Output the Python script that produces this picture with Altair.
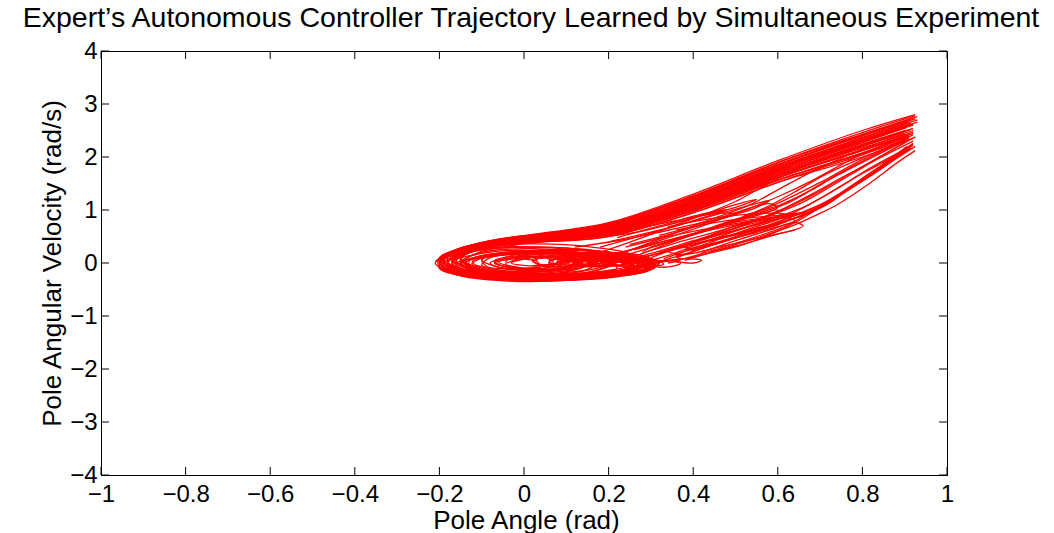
import altair as alt
import pandas as pd

TITLE = "Expert\u2019s Autonomous Controller Trajectory Learned by Simultaneous Experiment"
X_TITLE = "Pole Angle (rad)"
Y_TITLE = "Pole Angular Velocity (rad/s)"
TICKS_X = [-1, -0.8, -0.6, -0.4, -0.2, 0, 0.2, 0.4, 0.6, 0.8, 1]
TICKS_Y = [-4, -3, -2, -1, 0, 1, 2, 3, 4]

# upper band: from top-right down to the spiral on the left
UPPER = [
    [(0.925,2.78),(0.8,2.46),(0.6,1.9),(0.4,1.27),(0.2,0.74),(0.05,0.56),(-0.08,0.42),(-0.17,0.22),(-0.21,0.0),(-0.15,-0.22),(0.0,-0.33),(0.15,-0.3),(0.27,-0.17),(0.3,0.0),(0.22,0.18),(0.08,0.25),(-0.07,0.16),(-0.12,0.0),(-0.05,-0.14),(0.08,-0.14),(0.13,0.0),(0.06,0.08)],
    [(0.92,2.74),(0.8,2.42),(0.6,1.86),(0.4,1.24),(0.2,0.72),(0.05,0.53),(-0.08,0.4),(-0.16,0.2),(-0.2,0.0),(-0.14,-0.2),(0.0,-0.31),(0.16,-0.28),(0.28,-0.14),(0.29,0.02),(0.2,0.16),(0.05,0.2),(-0.08,0.1),(-0.1,-0.04),(-0.02,-0.12),(0.08,-0.09),(0.09,0.02)],
    [(0.93,2.7),(0.8,2.36),(0.6,1.82),(0.4,1.2),(0.2,0.7),(0.04,0.5),(-0.08,0.37),(-0.15,0.18),(-0.19,0.0),(-0.13,-0.19),(0.02,-0.29),(0.18,-0.26),(0.3,-0.1),(0.27,0.06),(0.15,0.15),(0.0,0.15),(-0.07,0.04),(-0.04,-0.08),(0.06,-0.08),(0.08,0.01)],
    [(0.91,2.66),(0.8,2.37),(0.6,1.8),(0.4,1.18),(0.2,0.68),(0.03,0.49),(-0.09,0.34),(-0.16,0.15),(-0.18,-0.02),(-0.12,-0.2),(0.03,-0.28),(0.2,-0.23),(0.31,-0.08),(0.28,0.08),(0.14,0.13),(0.02,0.1),(-0.03,0.0),(0.03,-0.06),(0.08,0.0)],
    [(0.92,2.62),(0.8,2.3),(0.6,1.76),(0.4,1.15),(0.2,0.66),(0.03,0.47),(-0.09,0.32),(-0.15,0.14),(-0.17,-0.03),(-0.1,-0.2),(0.05,-0.27),(0.2,-0.21),(0.28,-0.06),(0.22,0.1),(0.1,0.12),(0.02,0.04),(0.05,-0.04),(0.1,0.0)],
    [(0.9,2.58),(0.8,2.3),(0.6,1.72),(0.4,1.12),(0.2,0.63),(0.02,0.45),(-0.1,0.3),(-0.16,0.12),(-0.16,-0.05),(-0.08,-0.2),(0.08,-0.25),(0.22,-0.18),(0.27,-0.04),(0.2,0.08),(0.1,0.1),(0.06,0.02),(0.1,-0.04),(0.14,0.01)],
    [(0.915,2.52),(0.8,2.22),(0.6,1.68),(0.4,1.08),(0.2,0.6),(0.02,0.42),(-0.1,0.28),(-0.15,0.1),(-0.14,-0.07),(-0.05,-0.2),(0.1,-0.24),(0.24,-0.16),(0.3,0.0),(0.24,0.1),(0.16,0.08),(0.16,-0.03),(0.22,-0.02)],
    [(0.9,2.48),(0.8,2.2),(0.6,1.65),(0.4,1.05),(0.2,0.58),(0.0,0.42),(-0.12,0.27),(-0.17,0.08),(-0.13,-0.1),(-0.02,-0.22),(0.12,-0.23),(0.25,-0.12),(0.3,0.02),(0.25,0.09),(0.2,0.05),(0.22,-0.03)],
    [(0.92,2.44),(0.8,2.14),(0.6,1.62),(0.4,1.02),(0.2,0.56),(0.0,0.4),(-0.11,0.25),(-0.15,0.07),(-0.11,-0.12),(0.0,-0.22),(0.14,-0.2),(0.27,-0.1),(0.32,0.03),(0.27,0.1),(0.21,0.04),(0.25,-0.02)],
    [(0.91,2.4),(0.8,2.12),(0.6,1.6),(0.4,1.0),(0.2,0.55),(0.0,0.38),(-0.12,0.22),(-0.16,0.04),(-0.1,-0.14),(0.03,-0.22),(0.17,-0.18),(0.28,-0.06),(0.3,0.06),(0.25,0.08),(0.24,0.0)],
    [(0.92,2.35),(0.8,2.06),(0.6,1.56),(0.4,0.98),(0.2,0.53),(0.0,0.36),(-0.1,0.22),(-0.14,0.04),(-0.08,-0.13),(0.05,-0.2),(0.18,-0.16),(0.25,-0.04),(0.22,0.06),(0.16,0.04),(0.18,-0.02)],
    [(0.9,2.3),(0.8,2.0),(0.6,1.52),(0.4,0.95),(0.2,0.5),(-0.02,0.36),(-0.14,0.2),(-0.18,0.0),(-0.12,-0.18),(0.0,-0.26),(0.14,-0.22),(0.22,-0.1),(0.2,0.02),(0.12,0.04),(0.12,-0.04)],
    [(0.93,2.76),(0.82,2.48),(0.62,1.95),(0.42,1.32),(0.22,0.78),(0.08,0.58),(-0.05,0.46),(-0.15,0.28),(-0.2,0.06),(-0.18,-0.16),(-0.06,-0.3),(0.1,-0.32),(0.24,-0.22),(0.31,-0.05),(0.26,0.14),(0.12,0.24),(-0.02,0.2),(-0.1,0.06),(-0.08,-0.1),(0.04,-0.16),(0.14,-0.06),(0.1,0.06)],
    [(0.91,2.68),(0.8,2.4),(0.62,1.9),(0.42,1.28),(0.22,0.74),(0.06,0.55),(-0.06,0.43),(-0.16,0.25),(-0.2,0.03),(-0.16,-0.18),(-0.03,-0.3),(0.12,-0.3),(0.26,-0.19),(0.31,-0.02),(0.24,0.15),(0.1,0.2),(-0.03,0.14),(-0.07,0.0),(0.0,-0.1),(0.1,-0.08),(0.12,0.02)],
    [(0.92,2.6),(0.8,2.3),(0.62,1.82),(0.42,1.22),(0.22,0.7),(0.05,0.52),(-0.07,0.4),(-0.16,0.22),(-0.19,0.02),(-0.14,-0.18),(-0.01,-0.28),(0.14,-0.27),(0.27,-0.16),(0.3,0.0),(0.24,0.12),(0.12,0.16),(0.03,0.08),(0.04,-0.04),(0.12,-0.04)],
    [(0.9,2.55),(0.8,2.27),(0.62,1.78),(0.42,1.18),(0.22,0.66),(0.04,0.49),(-0.08,0.36),(-0.15,0.18),(-0.17,-0.01),(-0.11,-0.18),(0.03,-0.26),(0.18,-0.23),(0.29,-0.1),(0.29,0.04),(0.2,0.11),(0.12,0.06),(0.14,-0.03),(0.19,0.0)],
    [(0.92,2.5),(0.8,2.2),(0.62,1.72),(0.42,1.12),(0.22,0.63),(0.03,0.46),(-0.08,0.33),(-0.14,0.16),(-0.15,-0.02),(-0.08,-0.18),(0.06,-0.25),(0.2,-0.2),(0.3,-0.06),(0.28,0.06),(0.2,0.08),(0.19,0.0)],
    [(0.89,2.46),(0.8,2.2),(0.62,1.7),(0.42,1.1),(0.22,0.62),(0.02,0.44),(-0.1,0.3),(-0.15,0.12),(-0.13,-0.06),(-0.04,-0.19),(0.1,-0.23),(0.22,-0.15),(0.26,-0.03),(0.2,0.05),(0.15,0.0)],
    [(0.91,2.38),(0.8,2.08),(0.62,1.62),(0.42,1.04),(0.22,0.58),(0.02,0.41),(-0.1,0.27),(-0.15,0.1),(-0.12,-0.08),(-0.02,-0.2),(0.12,-0.21),(0.24,-0.12),(0.28,0.0),(0.24,0.07),(0.2,0.02)],
    [(0.9,2.33),(0.8,2.04),(0.62,1.58),(0.42,1.0),(0.22,0.55),(0.0,0.39),(-0.12,0.24),(-0.17,0.05),(-0.12,-0.14),(0.0,-0.23),(0.15,-0.2),(0.26,-0.08),(0.27,0.04),(0.21,0.06),(0.2,0.0)],
    [(0.925,2.72),(0.78,2.35),(0.58,1.8),(0.38,1.2),(0.18,0.69),(0.02,0.5),(-0.1,0.36),(-0.18,0.16),(-0.2,-0.06),(-0.12,-0.24),(0.04,-0.31),(0.2,-0.26),(0.3,-0.12),(0.31,0.04),(0.24,0.12),(0.14,0.1),(0.12,0.0),(0.18,-0.06),(0.24,-0.02)],
    [(0.915,2.64),(0.78,2.28),(0.58,1.74),(0.38,1.15),(0.18,0.66),(0.0,0.48),(-0.12,0.33),(-0.19,0.12),(-0.19,-0.08),(-0.1,-0.24),(0.06,-0.3),(0.22,-0.24),(0.3,-0.1),(0.26,0.04),(0.18,0.06),(0.17,-0.02)],
    [(0.905,2.56),(0.78,2.22),(0.58,1.68),(0.38,1.1),(0.18,0.62),(0.0,0.45),(-0.12,0.31),(-0.18,0.12),(-0.17,-0.1),(-0.07,-0.24),(0.08,-0.28),(0.22,-0.2),(0.28,-0.06),(0.24,0.06),(0.15,0.07),(0.12,-0.02)],
    [(0.92,2.47),(0.78,2.12),(0.58,1.6),(0.38,1.03),(0.18,0.58),(-0.02,0.42),(-0.14,0.28),(-0.2,0.08),(-0.16,-0.12),(-0.04,-0.26),(0.12,-0.27),(0.24,-0.16),(0.28,-0.02),(0.22,0.08),(0.14,0.06),(0.14,-0.04)],
    [(0.91,2.42),(0.78,2.08),(0.58,1.56),(0.38,1.0),(0.18,0.56),(-0.02,0.4),(-0.13,0.26),(-0.19,0.06),(-0.14,-0.14),(0.0,-0.25),(0.14,-0.24),(0.26,-0.12),(0.27,0.02),(0.2,0.08),(0.1,0.05),(0.08,-0.04)],
    [(0.9,2.36),(0.78,2.02),(0.58,1.52),(0.38,0.97),(0.18,0.54),(-0.03,0.38),(-0.15,0.24),(-0.2,0.04),(-0.15,-0.16),(-0.02,-0.26),(0.13,-0.24),(0.24,-0.1),(0.24,0.04),(0.16,0.08),(0.06,0.04),(0.06,-0.04)],
    [(0.925,2.8),(0.8,2.5),(0.6,1.93),(0.4,1.3),(0.2,0.76),(0.06,0.58),(-0.06,0.45),(-0.14,0.3),(-0.2,0.1),(-0.2,-0.1),(-0.1,-0.28),(0.06,-0.33),(0.22,-0.26),(0.3,-0.1),(0.3,0.08),(0.2,0.2),(0.04,0.24),(-0.1,0.14),(-0.15,-0.02),(-0.08,-0.18),(0.06,-0.2),(0.16,-0.08),(0.16,0.06),(0.06,0.12),(-0.04,0.06),(-0.04,-0.06),(0.04,-0.08)],
    [(0.93,2.66),(0.8,2.32),(0.6,1.78),(0.4,1.17),(0.2,0.67),(0.02,0.48),(-0.1,0.34),(-0.18,0.13),(-0.2,-0.08),(-0.13,-0.25),(0.02,-0.32),(0.18,-0.28),(0.28,-0.16),(0.32,0.0),(0.26,0.12),(0.14,0.18),(0.0,0.14),(-0.06,0.02),(0.0,-0.1),(0.1,-0.1),(0.14,0.0)],
    [(0.9,2.62),(0.78,2.3),(0.6,1.75),(0.4,1.14),(0.2,0.64),(0.02,0.46),(-0.1,0.32),(-0.17,0.12),(-0.18,-0.08),(-0.1,-0.24),(0.05,-0.29),(0.2,-0.24),(0.29,-0.12),(0.3,0.02),(0.22,0.12),(0.1,0.14),(0.02,0.06),(0.04,-0.05),(0.12,-0.06),(0.15,0.0)],
    [(0.92,2.54),(0.8,2.24),(0.6,1.7),(0.4,1.1),(0.2,0.61),(0.01,0.44),(-0.11,0.3),(-0.17,0.1),(-0.16,-0.1),(-0.06,-0.23),(0.1,-0.26),(0.24,-0.18),(0.31,-0.04),(0.28,0.08),(0.2,0.1),(0.16,0.02),(0.2,-0.04)],
]

# lower curves: small loops near zero, then climbing to the top-right
LOWER = [
    [(0.25,-0.02),(0.29,-0.07),(0.33,-0.02),(0.31,0.05),(0.26,0.04),(0.3,0.0),(0.36,0.12),(0.45,0.35),(0.55,0.6),(0.63,0.87),(0.7,1.1),(0.75,1.32),(0.84,1.81),(0.915,2.17)],
    [(0.2,0.0),(0.24,-0.06),(0.29,-0.02),(0.27,0.05),(0.22,0.03),(0.27,0.0),(0.34,0.14),(0.42,0.38),(0.5,0.6),(0.58,0.82),(0.66,1.05),(0.74,1.4),(0.82,1.8),(0.92,2.22)],
    [(0.15,0.0),(0.19,-0.06),(0.24,-0.02),(0.22,0.05),(0.17,0.03),(0.22,0.02),(0.3,0.18),(0.4,0.42),(0.5,0.66),(0.58,0.9),(0.65,1.15),(0.72,1.45),(0.8,1.82),(0.9,2.27)],
    [(0.1,0.0),(0.14,-0.07),(0.2,-0.03),(0.18,0.05),(0.12,0.03),(0.18,0.03),(0.27,0.22),(0.37,0.46),(0.47,0.72),(0.55,0.95),(0.62,1.2),(0.7,1.52),(0.8,1.95),(0.91,2.33)],
    [(0.06,0.0),(0.1,-0.07),(0.16,-0.03),(0.14,0.06),(0.08,0.03),(0.15,0.04),(0.25,0.24),(0.35,0.5),(0.45,0.78),(0.53,1.02),(0.6,1.25),(0.68,1.55),(0.78,1.98),(0.9,2.4)],
    [(0.28,-0.02),(0.33,-0.08),(0.37,-0.01),(0.34,0.05),(0.3,0.02),(0.36,0.05),(0.45,0.25),(0.55,0.5),(0.62,0.7),(0.68,0.98),(0.74,1.28),(0.82,1.7),(0.905,2.2)],
    [(0.3,0.0),(0.38,0.08),(0.42,0.05),(0.4,0.0),(0.36,0.04),(0.42,0.15),(0.52,0.35),(0.6,0.6),(0.66,0.85),(0.7,1.05),(0.78,1.45),(0.86,1.9),(0.92,2.25)],
    [(0.22,0.02),(0.3,0.15),(0.38,0.32),(0.46,0.48),(0.54,0.62),(0.6,0.75),(0.66,0.9),(0.69,1.0),(0.76,1.35),(0.84,1.75),(0.91,2.16)],
    [(0.34,0.0),(0.37,0.06),(0.36,0.15),(0.45,0.35),(0.55,0.6),(0.68,0.97),(0.72,1.12),(0.8,1.6),(0.91,2.15)],
    [(0.3,0.1),(0.4,0.4),(0.5,0.7),(0.56,0.85),(0.62,1.05),(0.68,1.3),(0.76,1.65),(0.84,1.98),(0.92,2.3)],
    [(0.26,0.12),(0.36,0.42),(0.46,0.72),(0.52,0.88),(0.58,1.08),(0.64,1.34),(0.72,1.7),(0.82,2.05),(0.91,2.36)],
    [(0.33,0.08),(0.43,0.36),(0.53,0.64),(0.6,0.82),(0.65,1.0),(0.7,1.22),(0.78,1.6),(0.86,1.95),(0.92,2.26)],
    [(0.36,0.1),(0.46,0.38),(0.56,0.62),(0.62,0.78),(0.67,0.95),(0.72,1.15),(0.8,1.55),(0.87,1.92),(0.925,2.2)],
    [(0.22,0.15),(0.32,0.45),(0.42,0.76),(0.48,0.93),(0.54,1.12),(0.6,1.38),(0.68,1.72),(0.78,2.08),(0.9,2.44)],
    [(0.18,0.2),(0.28,0.48),(0.38,0.78),(0.44,0.96),(0.5,1.16),(0.56,1.42),(0.64,1.75),(0.75,2.1),(0.9,2.5)],
    [(0.38,0.05),(0.48,0.3),(0.58,0.55),(0.64,0.72),(0.69,0.9),(0.74,1.1),(0.82,1.52),(0.88,1.88),(0.925,2.12)],
    [(0.4,0.25),(0.5,0.5),(0.6,0.78),(0.66,0.95),(0.7,1.08),(0.76,1.35),(0.83,1.72),(0.905,2.16)],
    [(0.46,0.55),(0.54,0.78),(0.6,0.95),(0.66,1.15),(0.72,1.42),(0.8,1.8),(0.88,2.18),(0.925,2.38)],
    [(0.5,0.8),(0.56,0.95),(0.62,1.12),(0.68,1.38),(0.74,1.65),(0.82,1.98),(0.9,2.3)],
    [(0.52,0.9),(0.6,1.08),(0.66,1.3),(0.72,1.58),(0.8,1.92),(0.88,2.25),(0.92,2.42)],
]

# elongated loops in the middle tangle
TANGLE = [
    [(0.3,0.3),(0.42,0.6),(0.52,0.85),(0.6,1.0),(0.58,0.9),(0.48,0.65),(0.36,0.38),(0.28,0.2),(0.3,0.3)],
    [(0.25,0.35),(0.38,0.62),(0.5,0.95),(0.58,1.12),(0.6,1.05),(0.5,0.78),(0.38,0.48),(0.3,0.3)],
    [(0.35,0.25),(0.45,0.5),(0.55,0.72),(0.62,0.85),(0.64,0.8),(0.55,0.58),(0.44,0.36),(0.38,0.25)],
    [(0.2,0.4),(0.32,0.62),(0.44,0.88),(0.54,1.1),(0.58,1.18),(0.55,1.05),(0.45,0.8),(0.32,0.52)],
    [(0.4,0.4),(0.5,0.62),(0.58,0.8),(0.65,0.92),(0.68,0.95),(0.62,0.8),(0.52,0.58),(0.44,0.42)],
    [(0.15,0.45),(0.28,0.6),(0.4,0.85),(0.5,1.05),(0.55,1.2),(0.5,1.1),(0.38,0.8),(0.25,0.55)],
    [(0.2,0.15),(0.3,0.35),(0.4,0.55),(0.5,0.72),(0.6,0.86),(0.66,0.95),(0.6,0.9),(0.48,0.8),(0.36,0.62)],
    [(0.24,0.3),(0.34,0.5),(0.44,0.66),(0.54,0.8),(0.62,0.92),(0.58,0.94),(0.46,0.86),(0.34,0.68)],
    [(0.28,0.1),(0.38,0.3),(0.48,0.5),(0.56,0.68),(0.6,0.72),(0.54,0.6),(0.42,0.38),(0.32,0.18)],
    [(0.32,0.2),(0.42,0.45),(0.5,0.66),(0.58,0.84),(0.52,0.8),(0.42,0.6),(0.34,0.42),(0.26,0.25)],
    [(0.18,0.3),(0.28,0.52),(0.36,0.7),(0.44,0.9),(0.48,1.0),(0.42,0.92),(0.32,0.7),(0.22,0.48)],
    [(0.42,0.2),(0.5,0.42),(0.58,0.62),(0.64,0.76),(0.66,0.7),(0.58,0.5),(0.5,0.32),(0.44,0.22)],
    [(0.36,0.14),(0.4,0.22),(0.38,0.3),(0.34,0.22),(0.38,0.16),(0.46,0.3),(0.56,0.48),(0.64,0.62)],
    [(0.12,0.3),(0.22,0.42),(0.32,0.58),(0.42,0.76),(0.5,0.92),(0.46,0.94),(0.36,0.8),(0.24,0.6)],
]

# spirals and small loops around the origin
SPIRALS = [
    [(-0.19,0.0),(-0.12,0.22),(0.0,0.3),(0.12,0.22),(0.16,0.02),(0.08,-0.2),(-0.05,-0.25),(-0.15,-0.12),(-0.17,0.02),(-0.1,0.18),(0.0,0.24),(0.1,0.15),(0.12,0.0),(0.05,-0.15),(-0.05,-0.18),(-0.12,-0.06),(-0.12,0.05),(-0.06,0.14),(0.02,0.16),(0.08,0.06),(0.06,-0.08),(-0.02,-0.1),(-0.07,0.0),(-0.02,0.08),(0.03,0.04)],
    [(-0.16,0.0),(-0.1,0.2),(0.02,0.27),(0.14,0.18),(0.2,0.0),(0.12,-0.18),(-0.02,-0.22),(-0.12,-0.1),(-0.13,0.03),(-0.06,0.16),(0.04,0.2),(0.12,0.1),(0.13,-0.05),(0.04,-0.14),(-0.05,-0.1),(-0.08,0.0),(-0.03,0.1),(0.05,0.1),(0.07,0.0),(0.02,-0.05)],
    [(0.08,0.0),(0.12,0.06),(0.17,0.02),(0.14,-0.05),(0.09,-0.02),(0.13,0.04),(0.19,0.03),(0.21,-0.03),(0.16,-0.05),(0.15,0.02),(0.2,0.05),(0.25,0.01),(0.23,-0.05),(0.19,-0.02),(0.22,0.04),(0.27,0.04),(0.29,-0.02),(0.25,-0.05),(0.23,0.0)],
    [(0.18,0.0),(0.22,0.06),(0.27,0.04),(0.28,-0.03),(0.23,-0.06),(0.2,-0.01),(0.25,0.05),(0.3,0.03),(0.31,-0.03),(0.27,-0.06),(0.25,0.0),(0.29,0.05),(0.32,0.01),(0.31,-0.05),(0.28,-0.02)],
    [(-0.21,0.02),(-0.14,0.26),(0.0,0.36),(0.16,0.3),(0.26,0.12),(0.24,-0.12),(0.1,-0.27),(-0.06,-0.3),(-0.18,-0.16),(-0.2,0.02),(-0.12,0.22),(0.02,0.3),(0.16,0.22),(0.22,0.04),(0.16,-0.16),(0.0,-0.24),(-0.12,-0.16),(-0.15,0.0),(-0.08,0.16),(0.04,0.2)],
    [(-0.2,-0.02),(-0.16,-0.22),(-0.04,-0.34),(0.12,-0.32),(0.24,-0.2),(0.28,0.0),(0.2,0.2),(0.04,0.3),(-0.12,0.26),(-0.19,0.06),(-0.14,-0.16),(0.0,-0.26),(0.14,-0.2),(0.2,-0.02),(0.12,0.14),(-0.02,0.18),(-0.1,0.06),(-0.06,-0.08),(0.04,-0.1)],
    [(-0.18,0.0),(-0.12,-0.2),(0.0,-0.3),(0.14,-0.28),(0.26,-0.16),(0.28,0.02),(0.18,0.16),(0.02,0.22),(-0.1,0.14),(-0.14,-0.02),(-0.06,-0.16),(0.06,-0.18),(0.14,-0.06),(0.1,0.08),(0.0,0.1),(-0.04,0.0)],
]

rows = []
tid = 0
for group in (UPPER, LOWER, TANGLE, SPIRALS):
    for traj in group:
        for i, (x, y) in enumerate(traj):
            rows.append({"traj": tid, "i": i, "x": x, "y": y})
        tid += 1
df = pd.DataFrame(rows)

W, H = 846, 424
FONT = "Liberation Sans"

xscale = alt.Scale(domain=[-1, 1], nice=False, zero=False)
yscale = alt.Scale(domain=[-4, 4], nice=False, zero=False)

lines = alt.Chart(df).mark_line(
    color="#ff0000", strokeWidth=1.3, interpolate="catmull-rom", clip=True
).encode(
    x=alt.X("x:Q", scale=xscale, axis=alt.Axis(
        values=TICKS_X, format=".1~f", title=X_TITLE, tickSize=0, labelPadding=7,
        labelFlush=False, labelOverlap=False, grid=False,
        labelFont=FONT, labelFontSize=24, labelColor="black",
        titleFont=FONT, titleColor="black",
        titleX=W / 2 + 2, titleY=45, titleBaseline="middle", titleFontSize=26,
        titleFontWeight="normal", domainColor="black", domainWidth=1)),
    y=alt.Y("y:Q", scale=yscale, axis=alt.Axis(
        values=TICKS_Y, format="d", title=Y_TITLE, tickSize=0, labelPadding=4,
        labelFlush=False, labelOverlap=False, grid=False,
        labelFont=FONT, labelFontSize=24, labelColor="black",
        titleFont=FONT, titleColor="black",
        titleX=-49, titleY=H / 2, titleBaseline="middle", titleAlign="center",
        titleAngle=-90, titleFontSize=26, titleFontWeight="normal",
        domainColor="black", domainWidth=1)),
    detail="traj:N",
    order="i:Q",
)

tx = pd.DataFrame({"v": TICKS_X})
ty = pd.DataFrame({"v": TICKS_Y})
tick_bottom = alt.Chart(tx).mark_rule(color="black", strokeWidth=1).encode(
    x=alt.X("v:Q", scale=xscale), y=alt.value(H), y2=alt.value(H - 8))
tick_top = alt.Chart(tx).mark_rule(color="black", strokeWidth=1).encode(
    x=alt.X("v:Q", scale=xscale), y=alt.value(0), y2=alt.value(8))
tick_left = alt.Chart(ty).mark_rule(color="black", strokeWidth=1).encode(
    y=alt.Y("v:Q", scale=yscale), x=alt.value(0), x2=alt.value(8))
tick_right = alt.Chart(ty).mark_rule(color="black", strokeWidth=1).encode(
    y=alt.Y("v:Q", scale=yscale), x=alt.value(W), x2=alt.value(W - 8))

title = alt.Chart(pd.DataFrame({"t": [TITLE]})).mark_text(
    font=FONT, fontSize=28.5, color="black", align="center", baseline="alphabetic"
).encode(text="t:N", x=alt.value(430), y=alt.value(-24))

chart = alt.layer(lines, tick_bottom, tick_top, tick_left, tick_right, title).properties(
    width=W, height=H,
    autosize=alt.AutoSizeParams(type="none"),
    padding={"left": 101, "top": 51, "right": 107, "bottom": 58},
    background="white",
).configure_view(
    stroke="black", strokeWidth=1
)

chart.save("out.html", embed_options={"renderer": "svg", "actions": False})
